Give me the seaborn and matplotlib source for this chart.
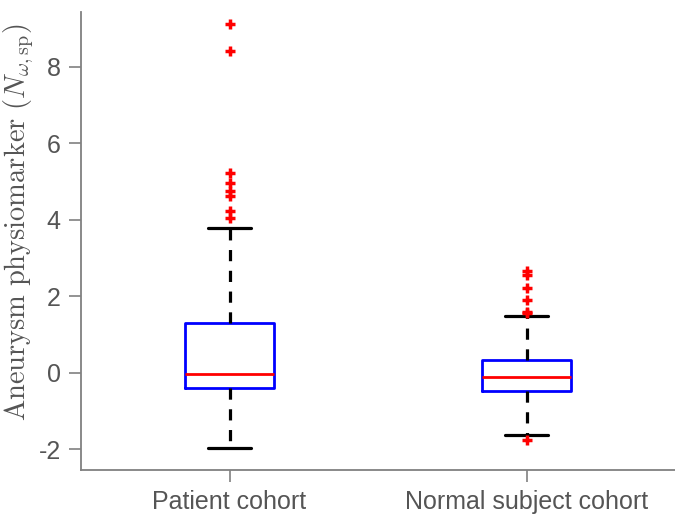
import matplotlib
matplotlib.use("Agg")
import matplotlib.pyplot as plt
import seaborn as sns

# Box summary values
cohorts = ["Patient cohort", "Normal subject cohort"]
q1 = [-0.40, -0.47]
medians = [-0.04, -0.12]
q3 = [1.30, 0.33]
whisker_low = [-1.98, -1.63]
whisker_high = [3.79, 1.49]
outliers = [
    [9.12, 8.43, 5.22, 4.97, 4.75, 4.62, 4.22, 4.05],
    [2.67, 2.55, 2.21, 1.90, 1.60, 1.55, -1.75],
]

sns.set_theme(style="ticks")
plt.rcParams["font.family"] = ["Liberation Sans", "DejaVu Sans"]
plt.rcParams["mathtext.fontset"] = "cm"

fig = plt.figure(figsize=(6.75, 5.2), dpi=100)
ax = fig.add_axes([0.12, 0.096, 0.88, 0.881])

stats = []
for i, name in enumerate(cohorts):
    stats.append({
        "label": name,
        "q1": q1[i], "med": medians[i], "q3": q3[i],
        "whislo": whisker_low[i], "whishi": whisker_high[i],
        "fliers": outliers[i],
    })

ax.bxp(stats, positions=[1, 2], widths=0.3, showfliers=True,
       boxprops=dict(color="#0000ff", linewidth=2),
       medianprops=dict(color="#ff0000", linewidth=2),
       whiskerprops=dict(color="black", linewidth=2.3, linestyle=(0, (3.5, 3))),
       capprops=dict(color="black", linewidth=2.3),
       capwidths=0.145,
       flierprops=dict(marker="+", markeredgecolor="#ff0000", markersize=7,
                       markeredgewidth=2.5, linestyle="none"))

ax.set_xlim(0.5, 2.5)
ax.set_ylim(-2.55, 9.44)
ax.set_yticks([-2, 0, 2, 4, 6, 8])
ax.set_yticklabels(["-2", "0", "2", "4", "6", "8"])
ax.set_xticks([1, 2])
ax.set_xticklabels(cohorts)

for side in ["top", "right"]:
    ax.spines[side].set_visible(False)
for side in ["left", "bottom"]:
    ax.spines[side].set_color("#808080")
    ax.spines[side].set_linewidth(1.3)
ax.tick_params(direction="out", length=8.5, width=1.2, color="#808080",
               labelcolor="#555555", labelsize=18, pad=6)

ax.set_ylabel(r"$\mathrm{Aneurysm\ physiomarker\ }(N_{\omega,\mathrm{sp}})$",
              fontsize=20.5, color="#555555")
ax.yaxis.set_label_coords(-0.075, 0.54)

fig.savefig("out.png", dpi=100)
